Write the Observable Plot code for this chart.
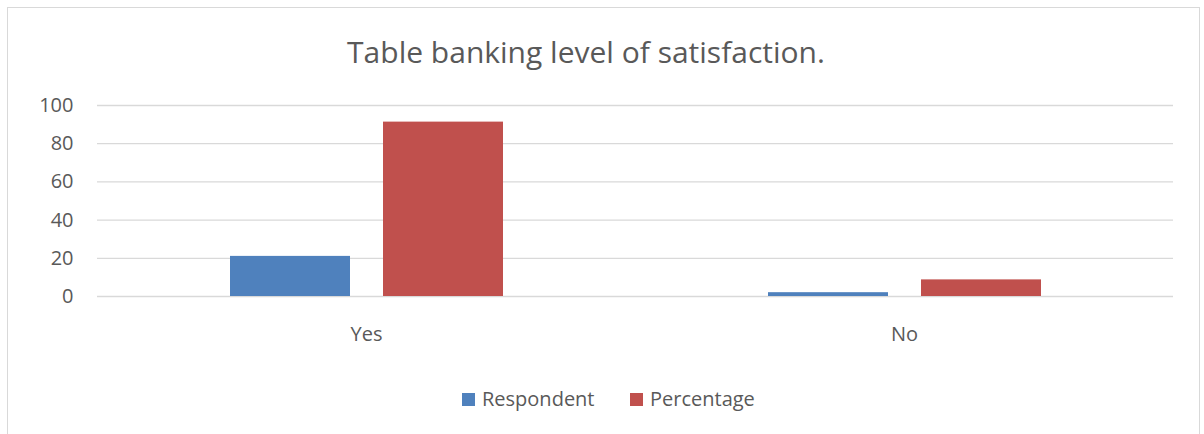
<!DOCTYPE html>
<html>
<head>
<meta charset="utf-8">
<script src="https://cdn.jsdelivr.net/npm/d3@7"></script>
<script src="https://cdn.jsdelivr.net/npm/@observablehq/plot@0.6"></script>
<style>
  html, body { margin: 0; padding: 0; background: #fff; }
  body { width: 1204px; height: 434px; position: relative; overflow: hidden; font-family: "Open Sans", sans-serif; color: #595959; }
  #frame { position: absolute; left: 7px; top: 7px; width: 1193px; height: 500px; border: 1.5px solid #d9d9d9; box-sizing: border-box; }
  #title { position: absolute; left: 0; top: 37px; width: 1172px; text-align: center; font-size: 30px; line-height: 30px; white-space: nowrap; }
  #chart { position: absolute; left: 0; top: 0; }
  .leg { position: absolute; top: 389px; font-size: 20px; line-height: 20px; white-space: nowrap; }
  .sw { position: absolute; top: 393px; width: 13px; height: 13px; }
</style>
</head>
<body>
<div id="frame"></div>
<div id="title">Table banking level of satisfaction.</div>
<div id="chart"></div>
<div id="legend"></div>
<script>
const categories = ["Yes", "No"];
const series = ["Respondent", "Percentage"];
const respondent = [21, 2];
const percentage = [91.3, 8.7];
const yTicks = [0, 20, 40, 60, 80, 100];
const colors = ["#4f81bd", "#c0504d"];

const data = categories.flatMap((c, i) => [
  {category: c, series: series[0], value: respondent[i]},
  {category: c, series: series[1], value: percentage[i]}
]);

const chart = Plot.plot({
  width: 1204,
  height: 350,
  marginLeft: 97,
  marginRight: 31,
  marginTop: 105,
  marginBottom: 54,
  style: {fontFamily: "Open Sans, sans-serif", fontSize: "20px", color: "#595959", background: "transparent", overflow: "visible"},
  fx: {domain: categories, paddingInner: 0, paddingOuter: 0, label: null, tickSize: 0, tickPadding: 30},
  x: {domain: series, paddingInner: 0.216, paddingOuter: 0.866, axis: null},
  y: {domain: [0, 100], ticks: yTicks, label: null, tickSize: 0, tickPadding: 24},
  color: {domain: series, range: colors},
  marks: [
    Plot.ruleY(yTicks, {stroke: "#d9d9d9", strokeWidth: 1.3}),
    Plot.barY(data, {fx: "category", x: "series", y: "value", fill: "series"})
  ]
});
document.getElementById("chart").appendChild(chart);

const legend = document.getElementById("legend");
const legPos = [{sw: 462, tx: 482}, {sw: 630, tx: 650}];
series.forEach((s, i) => {
  const sw = document.createElement("div");
  sw.className = "sw";
  sw.style.left = legPos[i].sw + "px";
  sw.style.background = colors[i];
  legend.appendChild(sw);
  const t = document.createElement("div");
  t.className = "leg";
  t.style.left = legPos[i].tx + "px";
  t.textContent = s;
  legend.appendChild(t);
});
</script>
</body>
</html>
